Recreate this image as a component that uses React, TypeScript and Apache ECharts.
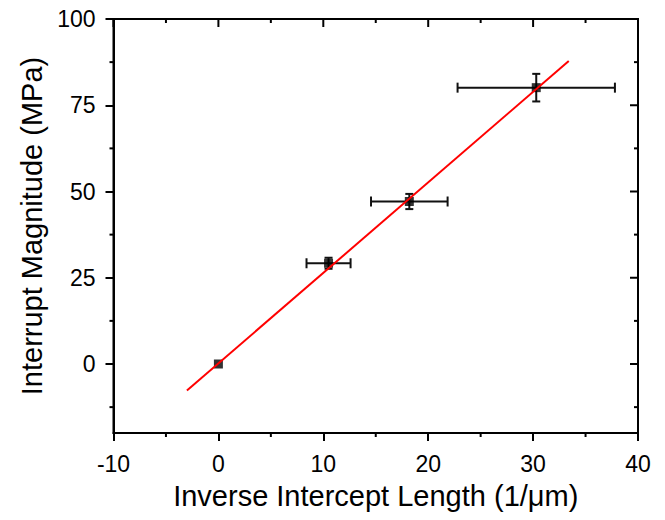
import React, { useEffect, useRef } from "react";
import * as echarts from "echarts";

const xValues = [0, 10.5, 18.2, 30.3];
const yValues = [0, 29.2, 47.1, 80.1];
const xErrors = [0, 2.1, 3.65, 7.5];
const yErrors = [0, 1.6, 2.2, 4.0];
const fitX = [-3.0, 33.4];
const fitY = [-7.7, 87.8];
const xRange = [-10, 40];
const yRange = [-20, 100];
const xMajorTicks = [-10, 0, 10, 20, 30, 40];
const xMinorTicks = [-5, 5, 15, 25, 35];
const yMajorTicks = [0, 25, 50, 75, 100];
const yMinorTicks = [-12.5, 12.5, 37.5, 62.5, 87.5];

const FONT = "Liberation Sans, Arial, sans-serif";

export default function App() {
  const ref = useRef<HTMLDivElement>(null);
  useEffect(() => {
    if (!ref.current) return;
    const chart = echarts.init(ref.current, null, { renderer: "svg" });
    const axisLine = { show: true, onZero: false, lineStyle: { color: "#000", width: 2 } };
    const tickStyle = { color: "#000", width: 2 };
    const points = xValues.map((x, i) => [x, yValues[i], xErrors[i], yErrors[i]]);
    const fit = fitX.map((x, i) => [x, fitY[i]]);
    const MAJOR = 8;
    const MINOR = 4;

    chart.setOption({
      animation: false,
      backgroundColor: "#fff",
      grid: {
        left: 113.5,
        right: 27,
        top: 19,
        bottom: 87,
        containLabel: false,
        show: true,
        borderColor: "#000",
        borderWidth: 2,
        backgroundColor: "transparent",
      },
      xAxis: {
        type: "value",
        min: xRange[0],
        max: xRange[1],
        position: "bottom",
        axisLine,
        splitLine: { show: false },
        axisTick: { show: true, length: MAJOR, lineStyle: tickStyle, customValues: xMajorTicks },
        axisLabel: { fontSize: 23, color: "#000", margin: 19, fontFamily: FONT, customValues: xMajorTicks },
        name: "Inverse Intercept Length (1/\u03bcm)",
        nameLocation: "middle",
        nameGap: 48,
        nameTextStyle: { fontSize: 29, color: "#000", fontFamily: FONT },
      },
      yAxis: {
        type: "value",
        min: yRange[0],
        max: yRange[1],
        position: "left",
        axisLine,
        splitLine: { show: false },
        axisTick: { show: true, length: MAJOR, lineStyle: tickStyle, customValues: yMajorTicks },
        axisLabel: { fontSize: 23, color: "#000", margin: 18, fontFamily: FONT, customValues: yMajorTicks },
        name: "Interrupt Magnitude (MPa)",
        nameLocation: "middle",
        nameGap: 64,
        nameTextStyle: { fontSize: 29, color: "#000", fontFamily: FONT },
      },
      series: [
        {
          // frame ticks: minor ticks outside (bottom/left), mirrored ticks inside (top/right)
          type: "custom",
          z: 5,
          clip: false,
          silent: true,
          data: [[xRange[0], yRange[0]]],
          encode: { x: 0, y: 1 },
          renderItem: (params: any, api: any) => {
            const style = { stroke: "#000", lineWidth: 2 };
            const lo = api.coord([xRange[0], yRange[0]]);
            const hi = api.coord([xRange[1], yRange[1]]);
            const bottom = lo[1], top = hi[1], left = lo[0], right = hi[0];
            const children: any[] = [];
            const vx = (v: number) => api.coord([v, yRange[0]])[0];
            const vy = (v: number) => api.coord([xRange[0], v])[1];
            xMinorTicks.forEach((v) => {
              const px = vx(v);
              children.push({ type: "line", shape: { x1: px, y1: bottom, x2: px, y2: bottom + MINOR }, style });
              children.push({ type: "line", shape: { x1: px, y1: top, x2: px, y2: top + MINOR }, style });
            });
            xMajorTicks.forEach((v) => {
              const px = vx(v);
              children.push({ type: "line", shape: { x1: px, y1: top, x2: px, y2: top + MAJOR }, style });
            });
            yMinorTicks.forEach((v) => {
              const py = vy(v);
              children.push({ type: "line", shape: { x1: left - MINOR, y1: py, x2: left, y2: py }, style });
              children.push({ type: "line", shape: { x1: right - MINOR, y1: py, x2: right, y2: py }, style });
            });
            yMajorTicks.forEach((v) => {
              const py = vy(v);
              children.push({ type: "line", shape: { x1: right - MAJOR, y1: py, x2: right, y2: py }, style });
            });
            return { type: "group", children };
          },
        },
        {
          type: "custom",
          z: 2,
          data: points,
          encode: { x: 0, y: 1 },
          renderItem: (params: any, api: any) => {
            const x = api.value(0);
            const y = api.value(1);
            const ex = api.value(2);
            const ey = api.value(3);
            const style = { stroke: "#111", lineWidth: 2 };
            const capV = 5;
            const capH = 4;
            const children: any[] = [];
            if (ex > 0) {
              const l = api.coord([x - ex, y]);
              const r = api.coord([x + ex, y]);
              children.push({ type: "line", shape: { x1: l[0], y1: l[1], x2: r[0], y2: r[1] }, style });
              children.push({ type: "line", shape: { x1: l[0], y1: l[1] - capV, x2: l[0], y2: l[1] + capV }, style });
              children.push({ type: "line", shape: { x1: r[0], y1: r[1] - capV, x2: r[0], y2: r[1] + capV }, style });
            }
            if (ey > 0) {
              const t = api.coord([x, y + ey]);
              const b = api.coord([x, y - ey]);
              children.push({ type: "line", shape: { x1: t[0], y1: t[1], x2: b[0], y2: b[1] }, style });
              children.push({ type: "line", shape: { x1: t[0] - capH, y1: t[1], x2: t[0] + capH, y2: t[1] }, style });
              children.push({ type: "line", shape: { x1: b[0] - capH, y1: b[1], x2: b[0] + capH, y2: b[1] }, style });
            }
            return { type: "group", children };
          },
        },
        {
          type: "scatter",
          z: 3,
          symbol: "rect",
          symbolSize: 9,
          itemStyle: { color: "#000" },
          data: xValues.map((x, i) => [x, yValues[i]]),
        },
        {
          type: "line",
          z: 4,
          showSymbol: false,
          symbol: "none",
          lineStyle: { color: "#ff0000", width: 2 },
          data: fit,
        },
      ],
    });
    return () => chart.dispose();
  }, []);
  return (
    <div
      ref={ref}
      style={{ position: "absolute", left: 0, top: 0, width: 665, height: 520 }}
    />
  );
}
